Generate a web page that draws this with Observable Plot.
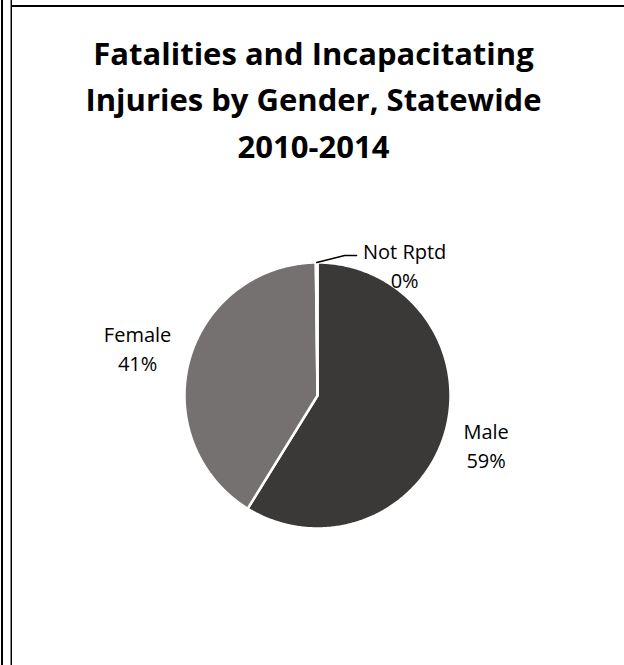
<!DOCTYPE html>
<html>
<head>
<meta charset="utf-8">
<script src="https://cdn.jsdelivr.net/npm/d3@7"></script>
<script src="https://cdn.jsdelivr.net/npm/@observablehq/plot@0.6"></script>
<style>
  html, body { margin: 0; padding: 0; background: #fff; }
  #wrap { position: relative; width: 624px; height: 665px; overflow: hidden; }
  .ln { position: absolute; }
  #chart { position: absolute; left: 0; top: 0; }
</style>
</head>
<body>
<div id="wrap">
  <div class="ln" style="left:1px;top:0;width:2px;height:665px;background:#000"></div>
  <div class="ln" style="left:10px;top:0;width:1px;height:665px;background:#8c8c8c"></div>
  <div class="ln" style="left:11px;top:0;width:1px;height:665px;background:#000"></div>
  <div class="ln" style="left:11px;top:5px;width:613px;height:2px;background:#000"></div>
  <div id="chart"></div>
</div>
<script>
const title = "Fatalities and Incapacitating\nInjuries by Gender, Statewide\n2010-2014";
const categories = ["Male", "Female", "Not Rptd"];
const shares = [58.8, 41.0, 0.2];
const pctLabels = ["59%", "41%", "0%"];
const colors = ["#3B3838", "#767171", "#A6A6A6"];

// layout constants
const W = 624, H = 665;
const cx = 317, cy = 395, R = 133;
const labelFont = "Open Sans";
const labelSize = 20;

const arcs = d3.pie().sort(null).value(d => d)(shares);

// polygon points for each slice (unit circle, angle clockwise from top)
const slicePts = [];
arcs.forEach((a, i) => {
  slicePts.push({cat: categories[i], x: 0, y: 0});
  const n = Math.max(2, Math.ceil((a.endAngle - a.startAngle) / 0.01));
  for (let k = 0; k <= n; k++) {
    const t = a.startAngle + (a.endAngle - a.startAngle) * k / n;
    slicePts.push({cat: categories[i], x: Math.sin(t), y: Math.cos(t)});
  }
});

// text width measurement
const ctx = document.createElement("canvas").getContext("2d");
ctx.font = `${labelSize}px "${labelFont}"`;

// labels
const px = 1 / R; // one pixel in data units
const labelData = [];
const leader = [];
arcs.forEach((a, i) => {
  const mid = (a.startAngle + a.endAngle) / 2;
  const txt = categories[i] + "\n" + pctLabels[i];
  const ax = Math.sin(mid), ay = Math.cos(mid);
  if (shares[i] < 1) {
    const ex = ax + 28 * px, ey = ay + 7 * px;
    const fx = ex + 12 * px;
    leader.push({x: ax, y: ay}, {x: ex, y: ey}, {x: fx, y: ey});
    labelData.push({x: fx + 48 * px, y: ey - 9 * px, text: txt});
  } else {
    const w = Math.max(ctx.measureText(categories[i]).width, ctx.measureText(pctLabels[i]).width);
    const sx = Math.sign(ax);
    labelData.push({x: ax + sx * (18 + w / 2) * px, y: ay * 1.35, text: txt});
  }
});

const chart = Plot.plot({
  width: W,
  height: H,
  margin: 0,
  style: {background: "transparent", overflow: "visible"},
  x: {domain: [-1, 1], range: [cx - R, cx + R], axis: null},
  y: {domain: [-1, 1], range: [cy + R, cy - R], axis: null},
  color: {domain: categories, range: colors},
  marks: [
    Plot.line(slicePts, {x: "x", y: "y", z: "cat", fill: "cat", stroke: "white", strokeWidth: 2.5, curve: "linear-closed"}),
    Plot.line(leader, {x: "x", y: "y", stroke: "#000", strokeWidth: 1.3}),
    Plot.text(labelData, {x: "x", y: "y", text: "text", fontSize: labelSize, lineHeight: 1.45, fill: "#000", fontFamily: labelFont, lineAnchor: "middle"}),
    Plot.text([title], {frameAnchor: "top", dx: 1, dy: 31, text: d => d, fontSize: 31, fontWeight: "bold", lineHeight: 1.5, fill: "#000", fontFamily: "Open Sans", lineAnchor: "top"})
  ]
});
document.getElementById("chart").appendChild(chart);
</script>
</body>
</html>
